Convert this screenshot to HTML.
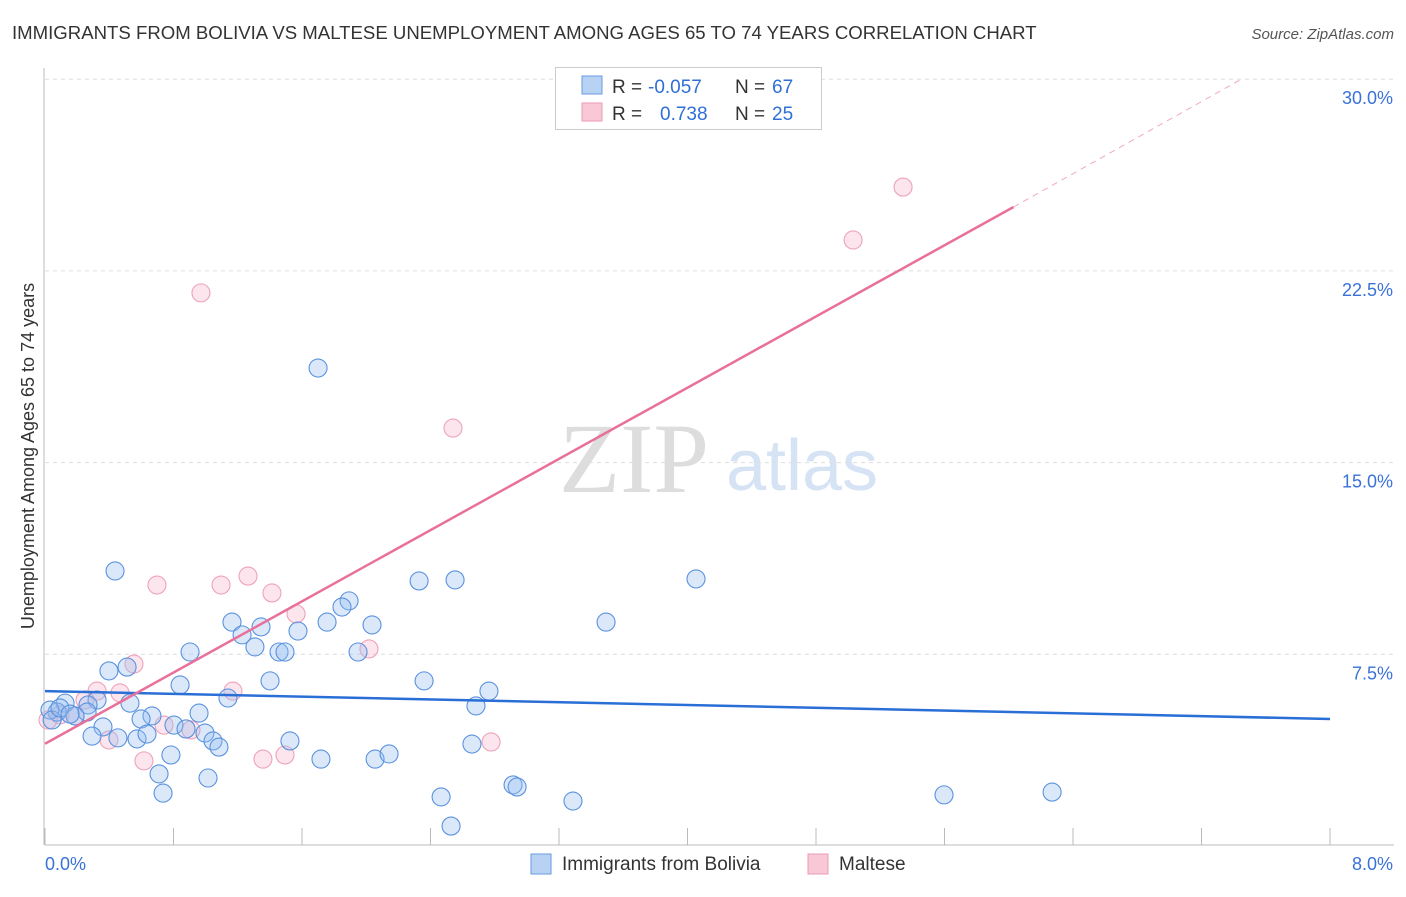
<!DOCTYPE html>
<html><head><meta charset="utf-8"><style>
body{margin:0;background:#fff;font-family:"Liberation Sans",sans-serif;}
svg text{font-family:"Liberation Sans",sans-serif;}
svg text.serif{font-family:"Liberation Serif",serif;}
</style></head><body>
<svg id="c" width="1406" height="892">
<text x="12" y="39" font-size="18.6" fill="#333">IMMIGRANTS FROM BOLIVIA VS MALTESE UNEMPLOYMENT AMONG AGES 65 TO 74 YEARS CORRELATION CHART</text>
<text x="1394" y="39" font-size="15" fill="#555" text-anchor="end" font-style="italic">Source: ZipAtlas.com</text>
<text class="serif" x="634" y="492" font-size="100" fill="#ddd" text-anchor="middle">ZIP</text>
<text x="802" y="490" font-size="72" fill="#d6e3f5" text-anchor="middle">atlas</text>
<g id="grid"></g>
<g id="marks"></g>
<text transform="translate(34,456) rotate(-90)" font-size="18" fill="#333" text-anchor="middle">Unemployment Among Ages 65 to 74 years</text>
<g>
<rect x="555.5" y="67.5" width="266" height="62" fill="#fff" stroke="#ccc"/>
<rect x="582" y="76" width="20" height="18" fill="#b8d2f4" stroke="#6a9ae0"/>
<rect x="582" y="103" width="20" height="18" fill="#f8c8d6" stroke="#ec9ab2"/>
<text x="612" y="93" font-size="19" fill="#333">R =</text>
<text x="648" y="93" font-size="19" fill="#2f6fd6">-0.057</text>
<text x="735" y="93" font-size="19" fill="#333">N =</text>
<text x="772" y="93" font-size="19" fill="#2f6fd6">67</text>
<text x="612" y="120" font-size="19" fill="#333">R =</text>
<text x="660" y="120" font-size="19" fill="#2f6fd6">0.738</text>
<text x="735" y="120" font-size="19" fill="#333">N =</text>
<text x="772" y="120" font-size="19" fill="#2f6fd6">25</text>
</g>
<g>
<rect x="531" y="854" width="20" height="20" fill="#b8d2f4" stroke="#6a9ae0"/>
<text x="562" y="870" font-size="19" fill="#333">Immigrants from Bolivia</text>
<rect x="808" y="854" width="20" height="20" fill="#f8c8d6" stroke="#ec9ab2"/>
<text x="839" y="870" font-size="19" fill="#333">Maltese</text>
</g>
</svg>
<script>
const yTicks=[7.5,15,22.5,30];
const yTickLabels=["7.5%","15.0%","22.5%","30.0%"];
const xTickLabels=["0.0%","8.0%"];
const blueX=[0.436,1.700,2.553,2.329,4.053,3.493,1.893,1.849,1.756,2.036,1.164,1.345,1.227,1.575,1.307,1.457,1.494,1.949,0.903,0.398,0.511,0.841,1.401,2.360,2.764,1.139,0.529,0.324,0.268,0.125,2.683,0.959,0.666,0.598,0.262,0.187,0.075,0.031,0.044,0.361,0.803,0.878,0.996,1.046,1.083,0.293,0.454,0.573,0.635,1.525,2.658,0.784,1.718,2.055,2.142,0.710,1.015,2.914,2.939,0.735,2.466,3.287,5.597,6.270,2.528,0.093,0.156];
const blueY=[10.76,18.70,10.41,10.37,10.45,8.76,9.59,9.35,8.76,8.65,8.76,8.57,8.26,8.41,7.79,7.59,7.59,7.59,7.59,6.85,7.00,6.30,6.46,6.46,6.06,5.79,5.59,5.71,5.52,5.59,5.48,5.20,5.09,4.97,5.24,5.09,5.24,5.32,4.93,4.66,4.73,4.58,4.42,4.11,3.87,4.30,4.23,4.19,4.38,4.11,3.99,3.56,3.40,3.40,3.60,2.82,2.66,2.39,2.31,2.07,1.92,1.76,2.00,2.11,0.78,5.40,5.16];
const pinkX=[0.971,5.342,5.031,2.540,0.697,1.096,1.264,1.413,1.563,2.017,0.554,0.324,1.170,0.467,0.741,0.909,0.398,0.616,1.357,1.494,2.777,0.019,0.093,0.187,0.249];
const pinkY=[21.64,25.78,23.71,16.35,10.21,10.21,10.56,9.90,9.08,7.71,7.12,6.06,6.06,5.99,4.73,4.54,4.15,3.33,3.40,3.56,4.07,4.93,5.13,5.09,5.71];
const blueLine=[6.06,4.97];
const pinkLine=[4.0,25.0,29.97];
const pinkLineX=[0,6.03,7.44];

const NS="http://www.w3.org/2000/svg";
const X=v=>45+v/8*1285, Y=v=>846-v/7.5*191.7;
function mk(t,a,p){const e=document.createElementNS(NS,t);for(const k in a)e.setAttribute(k,a[k]);p.appendChild(e);return e;}
const g=document.getElementById('grid'), m=document.getElementById('marks');
yTicks.forEach((t,i)=>{
 const l=mk('line',{x1:45,x2:1394,y1:Y(t),y2:Y(t),stroke:'#ddd','stroke-dasharray':'4,4'},g);
 
 
 const tx=mk('text',{x:1393,y:Y(t)+25,'font-size':18,fill:'#3a72d8','text-anchor':'end'},g);
 tx.textContent=yTickLabels[i];
 
 
});
const ax=mk('line',{x1:45,x2:1394,y1:845,y2:845,stroke:'#bbb'},g);


const ay=mk('line',{x1:44,x2:44,y1:68,y2:845,stroke:'#bbb'},g);


for(let i=0;i<=10;i++){const t=mk('line',{x1:X(i*0.8),x2:X(i*0.8),y1:828,y2:845,stroke:'#bbb'},g);
 
 }
[[0,45,'start'],[1,1393,'end']].forEach(([i,x,a])=>{const t=mk('text',{x:x,y:870,'font-size':18,fill:'#3a72d8','text-anchor':a},g);t.textContent=xTickLabels[i];
 
 });
pinkX.forEach((x,i)=>{const c=mk('circle',{cx:X(x),cy:Y(pinkY[i]),r:9,fill:'rgba(244,170,195,0.3)',stroke:'#eea2ba','stroke-width':1.1},m);
 
 });
blueX.forEach((x,i)=>{const c=mk('circle',{cx:X(x),cy:Y(blueY[i]),r:9,fill:'rgba(150,190,240,0.35)',stroke:'#5a92de','stroke-width':1.1},m);
 
 });
const bl=mk('line',{x1:X(0),y1:Y(blueLine[0]),x2:X(8),y2:Y(blueLine[1]),stroke:'#2a6fd6','stroke-width':2.5},m);


const pl=mk('line',{x1:X(pinkLineX[0]),y1:Y(pinkLine[0]),x2:X(pinkLineX[1]),y2:Y(pinkLine[1]),stroke:'#e8709a','stroke-width':2.5},m);


const pd=mk('line',{x1:X(pinkLineX[1]),y1:Y(pinkLine[1]),x2:X(pinkLineX[2]),y2:Y(pinkLine[2]),stroke:'#f0a8c0','stroke-width':1,'stroke-dasharray':'6,5'},m);


</script>
</body></html>
